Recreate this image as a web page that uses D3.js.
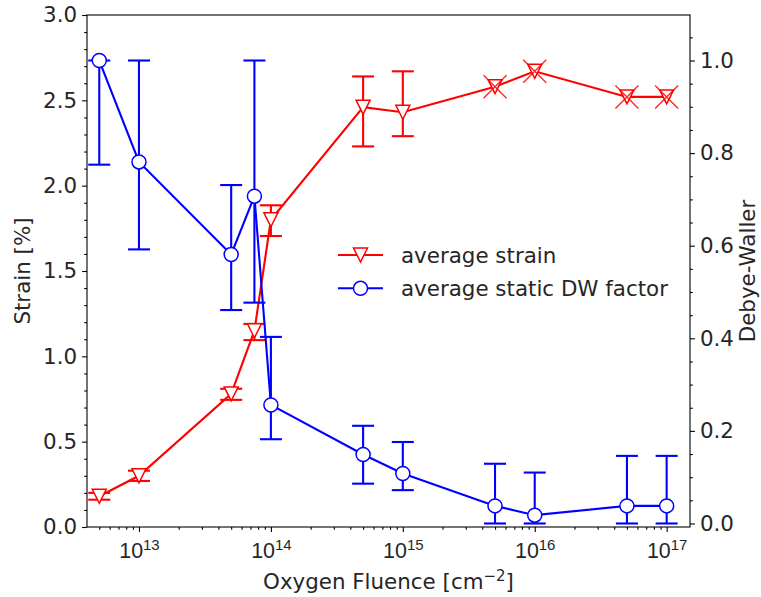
<!DOCTYPE html>
<html>
<head>
<meta charset="utf-8">
<script src="https://cdn.jsdelivr.net/npm/d3@7"></script>
<style>
  html, body { margin: 0; padding: 0; background: #fff; }
  svg { display: block; font-family: "DejaVu Sans", sans-serif; }
</style>
</head>
<body>
<script>
// Oxygen fluence (cm^-2) at which each sample was measured
const fluence = [5e12, 1e13, 5e13, 7.5e13, 1e14, 5e14, 1e15, 5e15, 1e16, 5e16, 1e17];

// Average strain [%] with lower / upper error bounds (null = no error bar)
const strain   = [0.18, 0.30, 0.78, 1.15, 1.80, 2.46, 2.43, 2.58, 2.67, 2.52, 2.52];
const strainLo = [0.16, 0.27, 0.745, 1.095, 1.705, 2.23, 2.29, null, null, null, null];
const strainHi = [0.20, 0.33, 0.81, 1.19, 1.885, 2.64, 2.67, null, null, null, null];
// strain points flagged with a cross marker
const strainFlag = [false, false, false, false, false, false, false, true, true, true, true];

// Average static Debye-Waller factor with lower / upper error bounds
const dw   = [1.0, 0.781, 0.581, 0.707, 0.256, 0.149, 0.108, 0.038, 0.018, 0.038, 0.038];
const dwLo = [0.775, 0.592, 0.461, 0.477, 0.182, 0.086, 0.072, 0.0, 0.0, 0.0, 0.0];
const dwHi = [1.0, 1.0, 0.731, 1.0, 0.403, 0.211, 0.176, 0.129, 0.110, 0.146, 0.146];

// Axis ticks and labels
const strainTicks = [0.0, 0.5, 1.0, 1.5, 2.0, 2.5, 3.0];
const dwTicks = [0.0, 0.2, 0.4, 0.6, 0.8, 1.0];
const fluenceTicks = [1e13, 1e14, 1e15, 1e16, 1e17];
const seriesNames = ["average strain", "average static DW factor"];
const xLabel = "Oxygen Fluence [cm";
const yLabelLeft = "Strain [%]";
const yLabelRight = "Debye-Waller";

const W = 761, H = 597;
const m = { left: 87, right: 690, top: 15, bottom: 527 };
const RED = "#ff0000", BLUE = "#0000ff";
const FS = 21.4;
const TXT = "#262626";

const svg = d3.select("body").append("svg").attr("width", W).attr("height", H);
svg.append("rect").attr("width", W).attr("height", H).attr("fill", "#fff");

const x = d3.scaleLog().domain([Math.pow(10, 12.606), Math.pow(10, 17.177)]).range([m.left, m.right]);
const yL = d3.scaleLinear().domain([0, 3]).range([m.bottom, m.top]);
const yR = d3.scaleLinear().domain([-0.0076, 1.0983]).range([m.bottom, m.top]);

// ---- axes ----
function styleAxis(g) {
  g.select(".domain").remove();
  g.selectAll(".tick line").attr("stroke", "#000").attr("stroke-width", 1.1);
  g.selectAll("text").attr("font-family", "DejaVu Sans").attr("font-size", FS).attr("fill", TXT);
}

// x minor ticks
const xMinor = x.ticks().filter(v => fluenceTicks.indexOf(v) < 0);
svg.append("g").attr("transform", `translate(0,${m.bottom})`)
  .call(d3.axisBottom(x).tickValues(xMinor).tickSize(2.8).tickFormat(""))
  .call(styleAxis);
// x major ticks with 10^n labels
const gx = svg.append("g").attr("transform", `translate(0,${m.bottom})`)
  .call(d3.axisBottom(x).tickValues(fluenceTicks).tickSize(4.9).tickFormat(""))
  .call(styleAxis);
gx.selectAll(".tick").each(function(d) {
  const t = d3.select(this).append("text")
    .attr("y", 31).attr("text-anchor", "middle")
    .attr("font-size", FS).attr("fill", TXT);
  t.append("tspan").text("10");
  t.append("tspan").attr("font-size", FS * 0.7).attr("dy", -8.5).text(String(Math.round(Math.log10(d))));
});

// left axis
const yLMinor = d3.range(0, 31).map(i => i / 10).filter(v => Math.abs(v * 2 - Math.round(v * 2)) > 1e-6);
svg.append("g").attr("transform", `translate(${m.left},0)`)
  .call(d3.axisLeft(yL).tickValues(yLMinor).tickSize(2.8).tickFormat(""))
  .call(styleAxis);
svg.append("g").attr("transform", `translate(${m.left},0)`)
  .call(d3.axisLeft(yL).tickValues(strainTicks).tickSize(4.9).tickPadding(5).tickFormat(d3.format(".1f")))
  .call(styleAxis);

// right axis
const yRMinor = d3.range(0, 22).map(i => i * 0.05).filter(v => Math.abs(v * 5 - Math.round(v * 5)) > 1e-6 && v <= 1.09);
svg.append("g").attr("transform", `translate(${m.right},0)`)
  .call(d3.axisRight(yR).tickValues(yRMinor).tickSize(2.8).tickFormat(""))
  .call(styleAxis);
svg.append("g").attr("transform", `translate(${m.right},0)`)
  .call(d3.axisRight(yR).tickValues(dwTicks).tickSize(4.9).tickPadding(5).tickFormat(d3.format(".1f")))
  .call(styleAxis);

// axis labels
const xl = svg.append("text").attr("x", (m.left + m.right) / 2).attr("y", 589)
  .attr("text-anchor", "middle").attr("font-size", FS).attr("fill", TXT);
xl.append("tspan").text(xLabel);
xl.append("tspan").attr("font-size", FS * 0.7).attr("dy", -8.5).text("\u22122");
xl.append("tspan").attr("dy", 8.5).text("]");

svg.append("text").attr("transform", `translate(30,${(m.top + m.bottom) / 2}) rotate(-90)`)
  .attr("text-anchor", "middle").attr("font-size", FS).attr("fill", TXT).text(yLabelLeft);
svg.append("text").attr("transform", `translate(755,${(m.top + m.bottom) / 2}) rotate(-90)`)
  .attr("text-anchor", "middle").attr("font-size", FS).attr("fill", TXT).text(yLabelRight);

// ---- series ----
const CAP = 11;
const triPath = "M0,7 L-7,-7 L7,-7 Z";

function errorBars(g, xs, lo, hi, y, color) {
  xs.forEach((f, i) => {
    if (lo[i] == null) return;
    const px = x(f);
    g.append("line").attr("x1", px).attr("x2", px).attr("y1", y(lo[i])).attr("y2", y(hi[i]))
      .attr("stroke", color).attr("stroke-width", 2.1);
    [lo[i], hi[i]].forEach(v => {
      g.append("line").attr("x1", px - CAP).attr("x2", px + CAP).attr("y1", y(v)).attr("y2", y(v))
        .attr("stroke", color).attr("stroke-width", 2.1);
    });
  });
}

// strain (left axis)
const gS = svg.append("g");
errorBars(gS, fluence, strainLo, strainHi, yL, RED);
gS.append("path").datum(fluence.map((f, i) => [f, strain[i]]))
  .attr("fill", "none").attr("stroke", RED).attr("stroke-width", 2.1)
  .attr("d", d3.line().x(d => x(d[0])).y(d => yL(d[1])));
gS.selectAll(".tri").data(fluence.map((f, i) => [f, strain[i]])).enter().append("path")
  .attr("d", triPath).attr("transform", d => `translate(${x(d[0])},${yL(d[1])})`)
  .attr("fill", "#fff").attr("stroke", RED).attr("stroke-width", 1.5);
fluence.forEach((f, i) => {
  if (!strainFlag[i]) return;
  const px = x(f), py = yL(strain[i]), r = 11.5;
  gS.append("path").attr("d", `M${px - r},${py - r}L${px + r},${py + r}M${px - r},${py + r}L${px + r},${py - r}`)
    .attr("stroke", RED).attr("stroke-width", 1.4).attr("fill", "none").attr("opacity", 0.85);
});

// Debye-Waller (right axis)
const gD = svg.append("g");
errorBars(gD, fluence, dwLo, dwHi, yR, BLUE);
gD.append("path").datum(fluence.map((f, i) => [f, dw[i]]))
  .attr("fill", "none").attr("stroke", BLUE).attr("stroke-width", 2.1)
  .attr("d", d3.line().x(d => x(d[0])).y(d => yR(d[1])));
gD.selectAll(".dot").data(fluence.map((f, i) => [f, dw[i]])).enter().append("circle")
  .attr("cx", d => x(d[0])).attr("cy", d => yR(d[1])).attr("r", 7)
  .attr("fill", "#fff").attr("stroke", BLUE).attr("stroke-width", 1.5);

// frame
svg.append("rect").attr("x", m.left).attr("y", m.top)
  .attr("width", m.right - m.left).attr("height", m.bottom - m.top)
  .attr("fill", "none").attr("stroke", "#000").attr("stroke-width", 1.1);

// ---- legend ----
const leg = svg.append("g");
const rows = [255, 288.3];
[RED, BLUE].forEach((c, i) => {
  const y0 = rows[i];
  leg.append("line").attr("x1", 338).attr("x2", 383).attr("y1", y0).attr("y2", y0)
    .attr("stroke", c).attr("stroke-width", 2.1);
  if (i === 0) {
    leg.append("path").attr("d", triPath).attr("transform", `translate(360.5,${y0})`)
      .attr("fill", "#fff").attr("stroke", c).attr("stroke-width", 1.5);
  } else {
    leg.append("circle").attr("cx", 360.5).attr("cy", y0).attr("r", 7)
      .attr("fill", "#fff").attr("stroke", c).attr("stroke-width", 1.5);
  }
  leg.append("text").attr("x", 401).attr("y", y0 + 7.5).attr("font-size", FS)
    .attr("fill", TXT).text(seriesNames[i]);
});
</script>
</body>
</html>
